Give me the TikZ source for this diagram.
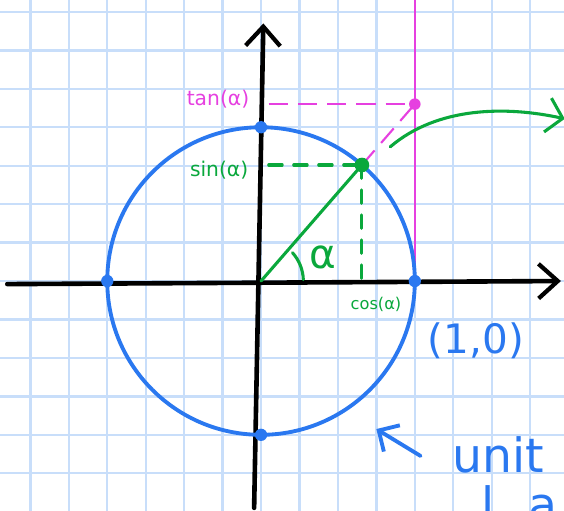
\documentclass[tikz,border=0pt]{standalone}
\usepackage{fontspec}
\setmainfont{DejaVu Sans}
\usetikzlibrary{arrows.meta}
\definecolor{mreza}{HTML}{C8DEFA}
\definecolor{plava}{HTML}{2A78F0}
\definecolor{zelena}{HTML}{0AA83C}
\definecolor{roze}{HTML}{E640E0}

\begin{document}
\begin{tikzpicture}[
  osa/.style={line width=1.2mm, line cap=round,
              -{Straight Barb[length=5mm,width=9mm,line width=1.1mm]}},
  krug/.style={draw=plava, line width=1mm},
  tacka/.style={circle, inner sep=0pt, minimum size=3.2mm},
  zcrt/.style={draw=zelena, line width=0.8mm, line cap=round},
  zisp/.style={zcrt, dash pattern=on 3.5mm off 3mm},
  risp/.style={draw=roze, line width=0.55mm, dash pattern=on 5mm off 2.6mm},
  mali/.style={font=\fontsize{15}{17}\selectfont},
  veliki/.style={font=\fontsize{30}{34}\selectfont, text=plava}
]
\useasboundingbox (-6.79,-5.98) rectangle (7.88,7.31);
\clip (-6.79,-5.98) rectangle (7.88,7.31);
\fill[white] (-6.79,-5.98) rectangle (7.88,7.31);
\foreach \x in {-6,...,7}
  \draw[mreza, line width=0.6mm] (\x,-5.98) -- (\x,7.31);
\foreach \y in {-5,...,7}
  \draw[mreza, line width=0.6mm] (-6.79,\y) -- (7.88,\y);

% tacke na krugu
\coordinate (O) at (0,0);
\coordinate (P) at (49:4);
\coordinate (T) at (4,{4*tan(49)});
\coordinate (Sy) at (0.2,{4*sin(49)});
\coordinate (Ty) at (0.2,{4*tan(49)});
\coordinate (Cx) at ({4*cos(49)},0);

% tangenta
\draw[draw=roze, line width=0.55mm] (4,0) -- (4,7.4);
\draw[risp] (Ty) -- (T);
\draw[risp] (P) -- (T);

% ose
\draw[osa] (-6.6,-0.08) -- (7.8,0);
\draw[osa] (-0.18,-5.9) -- (0.06,6.7);

% jedinicni krug
\draw[krug] (O) circle (4);

% sinus i kosinus
\draw[zcrt] (O) -- (P);
\draw[zisp] (Sy) -- (P);
\draw[zisp] (P) -- (Cx);
\draw[zcrt] (2:1.1) arc (2:42:1.1);

\node[tacka, fill=plava] (d1) at (4,0) {};
\node[tacka, fill=plava] (d2) at (-4,0) {};
\node[tacka, fill=plava] (d3) at (0,4) {};
\node[tacka, fill=plava] (d4) at (0,-4) {};
\node[tacka, fill=zelena, minimum size=3.8mm] (dp) at (P) {};
\node[tacka, fill=roze, minimum size=3mm] (dt) at (T) {};

% oznake
\node[mali, text=roze] (ltan) at (-1.12,4.73) {tan(α)};
\node[mali, text=zelena] (lsin) at (-1.09,2.89) {sin(α)};
\node[mali, text=zelena, font=\fontsize{12}{14}\selectfont] (lcos) at (2.99,-0.6) {cos(α)};
\node[text=zelena, font=\fontsize{30}{34}\selectfont] (lalfa) at (1.61,0.62) {α};
\node[veliki] (ljed) at (5.59,-1.56) {(1,0)};
\node[veliki, font=\fontsize{35}{38}\selectfont, anchor=base west] (lunit) at (4.85,-4.97) {unit};
\node[veliki, font=\fontsize{35}{38}\selectfont, anchor=base west] (lkrug) at (5.6,-6.25) {l\hspace{0.9cm}a};

% strelice
\coordinate (g1) at (3.36,3.49);
\coordinate (g2) at (7.9,4.22);
\draw[zcrt, -{Straight Barb[length=4mm,width=9mm,line width=0.8mm]}]
  (g1) .. controls (4.6,4.55) and (6.4,4.55) .. (g2);
\coordinate (k1) at (4.15,-4.55);
\coordinate (k2) at (3.0,-3.85);
\draw[draw=plava, line width=1mm, line cap=round,
  -{Straight Barb[length=4mm,width=8mm,line width=1mm]}] (k1) -- (k2);
\end{tikzpicture}
\end{document}
